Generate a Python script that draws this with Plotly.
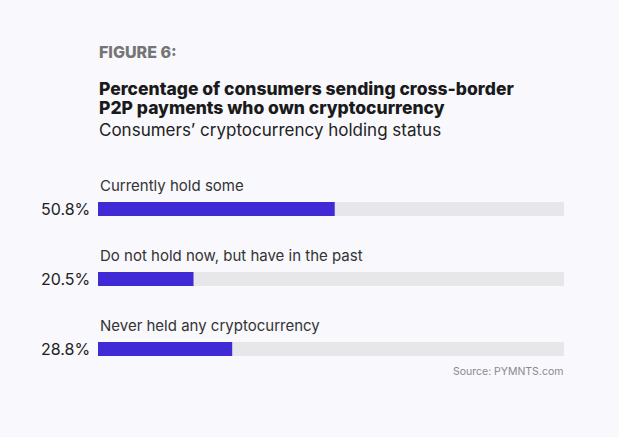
import plotly.graph_objects as go

categories = ["Currently hold some", "Do not hold now, but have in the past", "Never held any cryptocurrency"]
values = [50.8, 20.5, 28.8]
value_labels = ["50.8%", "20.5%", "28.8%"]
track_max = 100

BG = "#f8f8fd"
BAR = "#3f2ad6"
TRACK = "#e7e7ea"
FONT = "Inter, Roboto, sans-serif"

W, H = 619, 437
ypos = list(range(len(categories)))

fig = go.Figure()
fig.add_trace(go.Bar(x=[track_max] * len(categories), y=ypos, orientation="h",
                     marker=dict(color=TRACK, line=dict(width=0)), width=0.2,
                     hoverinfo="skip", showlegend=False))
fig.add_trace(go.Bar(x=values, y=ypos, orientation="h",
                     marker=dict(color=BAR, line=dict(width=0)), width=0.2,
                     showlegend=False))

ann = []
for i, (c, v) in enumerate(zip(categories, value_labels)):
    ann.append(dict(x=0, y=i - 0.33, xref="x", yref="y", text=c, showarrow=False,
                    xanchor="left", yanchor="middle",
                    font=dict(family=FONT, size=15, color="#333333")))
    ann.append(dict(x=0, y=i, xref="x", yref="y", text=v, showarrow=False,
                    xanchor="right", yanchor="middle", xshift=-6,
                    font=dict(family=FONT, size=16, color="#222222")))

ann.append(dict(x=track_max, y=2 + 0.315, xref="x", yref="y", text="Source: PYMNTS.com",
                showarrow=False, xanchor="right", yanchor="middle", xshift=1,
                font=dict(family=FONT, size=10.5, color="#8a8a8a")))

ann.append(dict(x=97 / W, y=1 - 52 / H, xref="paper", yref="paper", text="FIGURE 6:",
                showarrow=False, xanchor="left", yanchor="middle",
                font=dict(family=FONT, size=16, color="#757575", weight=800)))
ann.append(dict(x=97 / W, y=1 - 88 / H, xref="paper", yref="paper",
                text="Percentage of consumers sending cross-border",
                showarrow=False, xanchor="left", yanchor="middle",
                font=dict(family=FONT, size=17.5, color="#1a1a1a", weight=800)))
ann.append(dict(x=97 / W, y=1 - 108 / H, xref="paper", yref="paper",
                text="P2P payments who own cryptocurrency",
                showarrow=False, xanchor="left", yanchor="middle",
                font=dict(family=FONT, size=17.5, color="#1a1a1a", weight=800)))
ann.append(dict(x=97 / W, y=1 - 130 / H, xref="paper", yref="paper",
                text="Consumers’ cryptocurrency holding status",
                showarrow=False, xanchor="left", yanchor="middle",
                font=dict(family=FONT, size=17, color="#222222")))

fig.update_layout(
    width=W, height=H,
    margin=dict(l=0, r=0, t=0, b=0),
    paper_bgcolor=BG, plot_bgcolor=BG,
    barmode="overlay",
    xaxis=dict(range=[0, track_max], domain=[98 / W, 564 / W], visible=False, fixedrange=True),
    yaxis=dict(range=[(437 - 209) / 70, -209 / 70], domain=[0, 1], visible=False, fixedrange=True),
    annotations=ann,
)

fig.write_html("out.html", config={"displayModeBar": False},
               post_script="document.body.style.margin='0';document.body.style.background='%s';" % BG)
